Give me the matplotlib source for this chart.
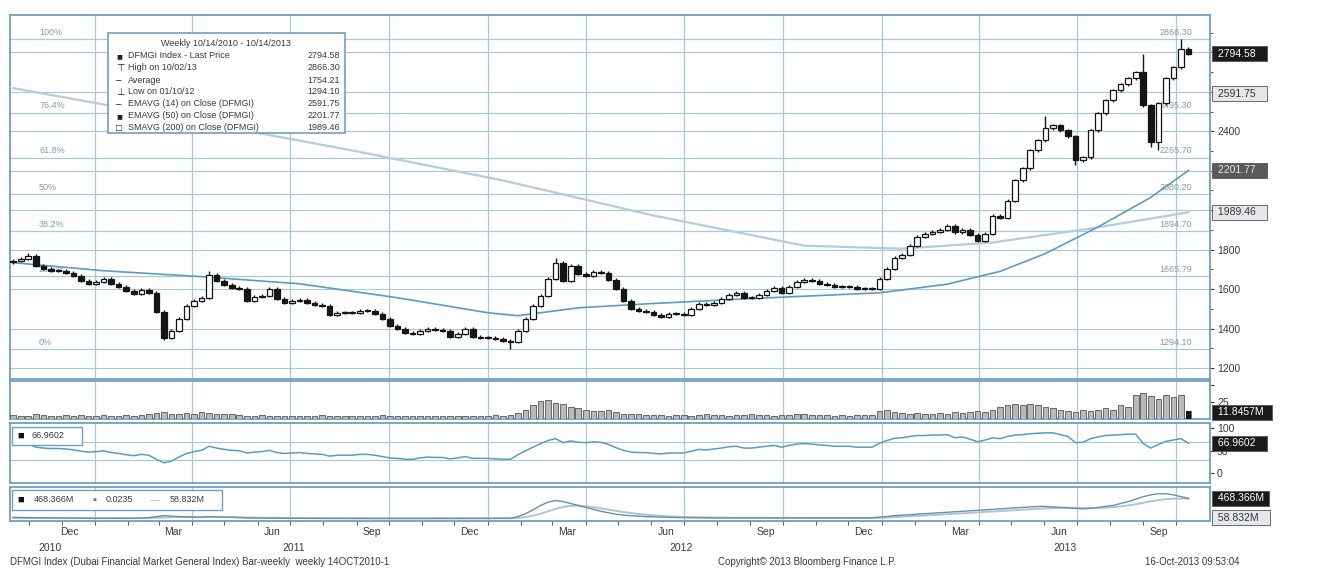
import matplotlib
matplotlib.use("Agg")
import matplotlib.pyplot as plt
import matplotlib.dates as mdates
from matplotlib.patches import Rectangle
import numpy as np
import pandas as pd

plt.rcParams['font.family'] = ['Liberation Sans', 'DejaVu Sans']

# weekly bars, 14 Oct 2010 - 14 Oct 2013
weeks = pd.date_range('2010-10-17', periods=157, freq='7D')

close = [1744, 1754, 1770, 1719, 1703, 1693, 1693, 1683, 1668, 1642,
         1627, 1637, 1653, 1627, 1612, 1592, 1576, 1597, 1581, 1485,
         1353, 1388, 1449, 1515, 1541, 1556, 1673, 1642, 1622, 1607,
         1602, 1541, 1561, 1566, 1602, 1551, 1531, 1541, 1546, 1531,
         1520, 1515, 1470, 1480, 1480, 1480, 1490, 1490, 1475, 1449,
         1414, 1398, 1378, 1373, 1388, 1398, 1393, 1388, 1358, 1373,
         1398, 1358, 1353, 1353, 1348, 1338, 1333, 1388, 1449, 1515,
         1566, 1653, 1734, 1642, 1719, 1678, 1668, 1688, 1683, 1648,
         1602, 1541, 1500, 1490, 1485, 1470, 1459, 1475, 1475, 1470,
         1500, 1526, 1520, 1531, 1551, 1571, 1581, 1556, 1556, 1571,
         1592, 1607, 1581, 1612, 1637, 1648, 1642, 1627, 1622, 1612,
         1612, 1612, 1602, 1602, 1602, 1653, 1703, 1760, 1775, 1820,
         1866, 1881, 1892, 1902, 1922, 1887, 1902, 1876, 1846, 1881,
         1973, 1963, 2049, 2151, 2212, 2303, 2354, 2415, 2431, 2405,
         2375, 2253, 2268, 2405, 2492, 2558, 2608, 2639, 2669, 2700,
         2532, 2344, 2542, 2669, 2725, 2820, 2794.58]
first_open = 1735
# notable wicks (week index: value)
wick_high = {2: 1785, 26: 1690, 72: 1760, 137: 2480, 150: 2790, 155: 2866.3}
wick_low = {20: 1340, 66: 1294.1, 141: 2230, 151: 2319, 152: 2303}

# moving averages, read at selected weeks
ema50_idx = [0, 12, 25, 38, 51, 63, 67, 75, 84, 98, 115, 124, 131, 137, 144, 151, 156]
ema50_val = [1734, 1693, 1663, 1627, 1556, 1480, 1465, 1505, 1525, 1552, 1581,
             1625, 1690, 1780, 1915, 2065, 2201.77]
sma200_idx = [0, 20, 45, 65, 85, 105, 118, 130, 143, 156]
sma200_val = [2619, 2481, 2303, 2151, 1973, 1820, 1805, 1836, 1907, 1989.46]

fib_pct = ['100%', '76.4%', '61.8%', '50%', '38.2%', '23.6%', '0%']
fib_val = [2866.30, 2495.30, 2265.70, 2080.20, 1894.70, 1665.79, 1294.10]

volume = [6, 5, 5, 7, 6, 5, 5, 6, 5, 6, 5, 5, 6, 5, 5, 6, 5, 6, 7,
          9, 10, 8, 8, 9, 8, 10, 9, 8, 8, 7, 6,
          5, 5, 6, 5, 5, 4, 5, 5, 4, 5, 6, 5, 4, 5, 5, 4, 4, 5, 6, 5,
          4, 4, 5, 5, 4, 5, 4, 5, 5, 4, 4, 5, 5, 6, 5, 6,
          9, 14, 20, 26, 28, 24, 22, 18, 16, 14, 12, 12, 14, 10,
          8, 7, 7, 6, 6, 6, 5, 6, 6, 5, 6, 7, 6, 6, 5, 6, 6, 7, 6, 6,
          5, 6, 6, 7, 7, 6, 6, 6, 5, 6, 5, 6, 6, 6,
          12, 14, 10, 9, 8, 9, 8, 8, 9, 8, 10, 9, 10, 12, 11, 14,
          18, 20, 22, 20, 22, 21, 18, 16, 14, 12, 10, 14, 12, 14, 16, 14,
          20, 18, 36, 38, 34, 30, 36, 33, 35, 12]

rsi = [62, 63, 65, 58, 56, 55, 55, 54, 52, 49,
       47, 48, 50, 46, 44, 41, 39, 42, 40, 31,
       23, 27, 36, 44, 48, 51, 60, 56, 53, 51,
       50, 45, 47, 48, 51, 46, 44, 45, 46, 44,
       43, 42, 38, 40, 40, 40, 42, 42, 40, 37,
       34, 33, 31, 31, 34, 36, 35, 35, 32, 34,
       37, 33, 33, 33, 32, 31, 31, 41, 50, 58,
       66, 73, 77, 68, 72, 69, 68, 70, 69, 64,
       57, 51, 47, 46, 46, 44, 43, 45, 45, 45,
       49, 53, 52, 54, 56, 59, 60, 56, 56, 58,
       60, 62, 58, 62, 65, 66, 65, 63, 62, 60,
       60, 60, 58, 58, 58, 67, 73, 78, 79, 82,
       84, 84, 85, 85, 86, 79, 81, 76, 70, 74,
       79, 77, 82, 85, 86, 88, 89, 90, 90, 86,
       82, 68, 69, 77, 81, 84, 85, 86, 87, 87,
       66, 56, 64, 71, 74, 77, 66.96]

money = [75, 72, 70, 68, 66, 64, 62, 60, 60, 58, 58, 56, 56, 55, 55, 56, 58, 60, 70,
         90, 110, 100, 90, 85, 80, 78, 90, 85, 80, 75, 72,
         62, 60, 58, 58, 57, 56, 56, 55, 55, 55, 54, 54, 54, 53, 53, 53, 53, 52,
         52, 52, 52, 52, 52, 52, 52, 52, 52, 52, 52, 53, 53, 53, 54, 55, 56, 58,
         90, 150, 230, 320, 390, 420, 400, 360, 320, 280, 240, 200, 170, 140,
         120, 110, 100, 90, 85, 80, 75, 72, 70, 68,
         66, 65, 64, 64, 63, 63, 62, 62, 62, 62, 62, 62, 62, 62, 62, 62, 62, 62,
         62, 62, 62, 62, 63, 64,
         80, 95, 110, 120, 130, 140, 150, 160, 170, 180, 190, 200, 210, 220, 230, 240,
         250, 260, 270, 280, 290, 300, 300, 290, 280, 270, 260, 250, 260, 280, 300, 320,
         360, 400, 450, 500, 540, 560, 560, 540, 500, 468.366]
money_avg = [60, 60, 60, 60, 60, 60, 60, 60, 60, 59, 59, 58, 58, 57, 57, 57, 57, 58, 60,
             66, 74, 80, 82, 82, 81, 80, 80, 80, 79, 77, 75,
             72, 70, 68, 66, 64, 62, 61, 60, 59, 58, 58, 57, 56, 56, 55, 55, 54, 54,
             54, 53, 53, 53, 53, 53, 53, 53, 53, 53, 53, 53, 53, 53, 53, 54, 54, 55,
             62, 80, 110, 150, 200, 250, 290, 310, 315, 305, 285, 260, 235, 210,
             185, 165, 145, 130, 115, 105, 95, 88, 82, 78,
             74, 72, 70, 68, 67, 66, 65, 64, 64, 63, 63, 63, 62, 62, 62, 62, 62, 62,
             62, 62, 62, 62, 62, 62,
             66, 72, 80, 88, 96, 105, 114, 122, 130, 140, 150, 160, 170, 178, 186, 195,
             204, 213, 222, 232, 242, 252, 260, 266, 270, 272, 270, 268, 266, 268, 275, 285,
             300, 320, 345, 375, 405, 430, 450, 460, 462, 455]

# ---------------------------------------------------------------
W, H = 1322, 580
fig = plt.figure(figsize=(W / 100, H / 100), dpi=100)
fig.patch.set_facecolor('white')


def ax_at(x0, y0, x1, y1):
    return fig.add_axes([x0 / W, 1 - y1 / H, (x1 - x0) / W, (y1 - y0) / H])


grid_c = '#a8c8de'
edge_c = '#6f9fc0'
txt_c = '#3a3a3a'

ax = ax_at(10, 15, 1210, 379)
axv = ax_at(10, 381, 1210, 419)
axr = ax_at(10, 423, 1210, 483)
axm = ax_at(10, 487, 1210, 521)
panels = [ax, axv, axr, axm]

x = mdates.date2num(weeks)
c = np.array(close, dtype=float)
o = np.concatenate([[first_open], c[:-1]])
hi = np.maximum(o, c) + 8
lo = np.minimum(o, c) - 8
for k, v in wick_high.items():
    hi[k] = v
for k, v in wick_low.items():
    lo[k] = v
up = c >= o
body_b = np.minimum(o, c)
body_h = np.maximum(np.abs(c - o), 5)

ax.vlines(x, lo, hi, color='#151515', lw=1.0, zorder=3)
ax.bar(x[up], body_h[up], bottom=body_b[up], width=5.2, color='white',
       edgecolor='#151515', linewidth=0.9, zorder=4)
ax.bar(x[~up], body_h[~up], bottom=body_b[~up], width=5.2, color='#151515',
       edgecolor='#151515', linewidth=0.9, zorder=4)

ax.plot(weeks[sma200_idx], sma200_val, color='#b7cbd8', lw=1.6, zorder=2)
ax.plot(weeks[ema50_idx], ema50_val, color='#5d9ac4', lw=1.2, zorder=2)

for v in range(1200, 3000, 200):
    ax.axhline(v, color=grid_c, lw=0.8, zorder=1)
for p, v in zip(fib_pct, fib_val):
    ax.axhline(v, color=grid_c, lw=0.9, zorder=1)
    ax.text(pd.Timestamp('2010-11-10'), v + 12, p, fontsize=6.5, color='#8a9aa8',
            va='bottom', ha='left', zorder=2)
    ax.text(0.985, v + 12, '%.2f' % v, transform=ax.get_yaxis_transform(),
            fontsize=6.5, color='#8a9aa8', va='bottom', ha='right', zorder=2)

xmin, xmax = mdates.date2num(pd.Timestamp('2010-10-14')), mdates.date2num(pd.Timestamp('2013-11-02'))
qstarts = pd.date_range('2011-01-01', '2013-10-01', freq='QS')
mid_months = pd.to_datetime(['2010-12-08', '2011-03-15', '2011-06-15', '2011-09-15',
                             '2011-12-15', '2012-03-15', '2012-06-15', '2012-09-15',
                             '2012-12-15', '2013-03-15', '2013-06-15', '2013-09-15'])
month_labels = ['Dec', 'Mar', 'Jun', 'Sep'] * 3
years = ['2010', '2011', '2012', '2013']
year_pos = pd.to_datetime(['2010-11-20', '2011-07-05', '2012-06-29', '2013-06-20'])

for a in panels:
    a.set_xlim(xmin, xmax)
    for q in qstarts:
        a.axvline(q, color=grid_c, lw=0.9, zorder=1)
    a.yaxis.tick_right()
    a.tick_params(axis='y', direction='out', length=3, labelsize=7.5, colors=txt_c, pad=2)
    a.tick_params(axis='x', length=0)
    for s in a.spines.values():
        s.set_color(edge_c)
        s.set_linewidth(1.3)
    a.set_xticks([])

ax.set_ylim(1144, 2990)
ax.set_yticks([1200, 1400, 1600, 1800, 2400])
ax.set_yticks(np.arange(1200, 2990, 100), minor=True)
ax.tick_params(axis='y', which='minor', length=2, colors=txt_c)

axv.bar(x, volume, width=5.2, color='#b9b9b9', edgecolor='#555555', linewidth=0.6, zorder=3)
axv.bar(x[-1:], volume[-1:], width=5.2, color='#151515', zorder=4)
axv.set_ylim(0, 56)
axv.set_yticks([25, 50])
axv.set_yticklabels(['25', ''])

axr.plot(weeks, rsi, color='#5d9ac4', lw=1.1, zorder=3)
axr.set_ylim(-22, 112)
axr.set_yticks([0, 50, 100])
for v in (30, 70):
    axr.axhline(v, color=grid_c, lw=0.8, zorder=1)

axm.plot(weeks, money_avg, color='#b0c4d2', lw=1.4, zorder=2)
axm.plot(weeks, money, color='#6b8fa8', lw=1.0, zorder=3)
axm.set_ylim(0, 700)
axm.set_yticks([])

# x axis labels
for d, lab in zip(mid_months, month_labels):
    axm.text(d, -0.32, lab, transform=axm.get_xaxis_transform(), ha='center',
             va='center', fontsize=7.5, color=txt_c)
for d, lab in zip(year_pos, years):
    axm.text(d, -0.8, lab, transform=axm.get_xaxis_transform(), ha='center',
             va='center', fontsize=7.5, color=txt_c)
axm.set_xticks(mdates.date2num(pd.date_range('2010-11-01', '2013-10-01', freq='MS')), minor=True)
axm.tick_params(axis='x', which='minor', length=3, colors=txt_c, direction='out')


# right-hand value boxes
def value_box(a, v, label, fc, tc):
    a.text(1.004, v, label, transform=a.get_yaxis_transform(), fontsize=7.5,
           color=tc, ha='left', va='center', zorder=6, clip_on=False,
           bbox=dict(boxstyle='square,pad=0.25', fc=fc, ec='#555555', lw=0.6))


value_box(ax, 2794.58, ' 2794.58   ', '#1a1a1a', 'white')
value_box(ax, 2591.75, ' 2591.75   ', '#e4e8eb', '#333333')
value_box(ax, 2201.77, ' 2201.77   ', '#5a5a5a', '#e8e8e8')
value_box(ax, 1989.46, ' 1989.46   ', '#e4e8eb', '#333333')
value_box(axv, 10, ' 11.8457M  ', '#1a1a1a', 'white')
value_box(axr, 66.96, ' 66.9602   ', '#1a1a1a', 'white')
value_box(axm, 468.366, ' 468.366M ', '#1a1a1a', 'white')
value_box(axm, 70, ' 58.832M   ', '#e4e8eb', '#333333')


# legend box on the price panel
def fx(px):
    return px / W


def fy(py):
    return 1 - py / H


fig.patches.append(Rectangle((fx(108), fy(133)), fx(345) - fx(108), fy(33) - fy(133),
                             transform=fig.transFigure, fc='white', ec=edge_c, lw=1.2, zorder=5))
fig.text(fx(226), fy(43), 'Weekly 10/14/2010 - 10/14/2013', ha='center', va='center',
         fontsize=6.5, color=txt_c, zorder=6)
leg_rows = [('■', 'DFMGI Index - Last Price', '2794.58'),
            ('⊤', 'High on 10/02/13', '2866.30'),
            ('–', 'Average', '1754.21'),
            ('⊥', 'Low on 01/10/12', '1294.10'),
            ('–', 'EMAVG (14) on Close (DFMGI)', '2591.75'),
            ('■', 'EMAVG (50) on Close (DFMGI)', '2201.77'),
            ('□', 'SMAVG (200) on Close (DFMGI)', '1989.46')]
for k, (m, name, val) in enumerate(leg_rows):
    yy = fy(56 + 12 * k)
    fig.text(fx(116), yy, m, fontsize=7, color='#222222', va='center', zorder=6)
    fig.text(fx(128), yy, name, fontsize=6.5, color=txt_c, va='center', zorder=6)
    fig.text(fx(340), yy, val, fontsize=6.5, color=txt_c, va='center', ha='right', zorder=6)

# small legends on lower panels
fig.patches.append(Rectangle((fx(12), fy(445)), fx(70), fy(427) - fy(445),
                             transform=fig.transFigure, fc='white', ec=edge_c, lw=1.0, zorder=5))
fig.text(fx(17), fy(436), '■', fontsize=8, color='#111111', va='center', zorder=6)
fig.text(fx(32), fy(436), '66.9602', fontsize=6.5, color=txt_c, va='center', zorder=6)

fig.patches.append(Rectangle((fx(12), fy(510)), fx(210), fy(490) - fy(510),
                             transform=fig.transFigure, fc='white', ec=edge_c, lw=1.0, zorder=5))
fig.text(fx(17), fy(500), '■', fontsize=8, color='#111111', va='center', zorder=6)
fig.text(fx(34), fy(500), '468.366M', fontsize=6.5, color=txt_c, va='center', zorder=6)
fig.text(fx(92), fy(500), '▪', fontsize=8, color='#777777', va='center', zorder=6)
fig.text(fx(106), fy(500), '0.0235', fontsize=6.5, color=txt_c, va='center', zorder=6)
fig.text(fx(150), fy(500), '—', fontsize=7, color='#b0c4d2', va='center', zorder=6)
fig.text(fx(170), fy(500), '58.832M', fontsize=6.5, color=txt_c, va='center', zorder=6)

# footer
fig.text(fx(10), fy(562), 'DFMGI Index (Dubai Financial Market General Index) Bar-weekly  weekly 14OCT2010-1',
         fontsize=7, color=txt_c, va='center')
fig.text(fx(718), fy(562), 'Copyright© 2013 Bloomberg Finance L.P.', fontsize=7, color=txt_c, va='center')
fig.text(fx(1145), fy(562), '16-Oct-2013 09:53:04', fontsize=7, color=txt_c, va='center')

fig.savefig('out.png', dpi=100)
